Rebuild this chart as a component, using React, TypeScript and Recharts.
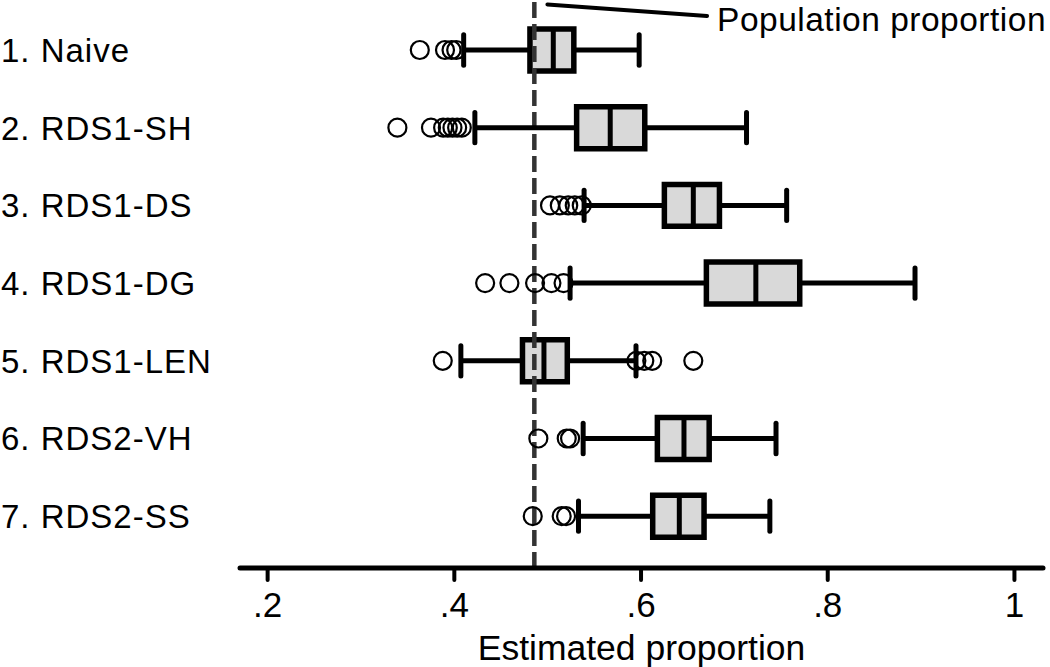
import React from 'react';
import {
  ComposedChart,
  XAxis,
  YAxis,
  Scatter,
  ReferenceLine,
  ReferenceArea,
  ReferenceDot,
  Label,
} from 'recharts';

const categories = [
  '1. Naive',
  '2. RDS1-SH',
  '3. RDS1-DS',
  '4. RDS1-DG',
  '5. RDS1-LEN',
  '6. RDS2-VH',
  '7. RDS2-SS',
];
const lowerWhisker = [0.41, 0.422, 0.539, 0.524, 0.407, 0.538, 0.533];
const q1 = [0.481, 0.531, 0.625, 0.67, 0.473, 0.6175, 0.6125];
const medians = [0.506, 0.567, 0.656, 0.723, 0.496, 0.646, 0.641];
const q3 = [0.528, 0.604, 0.684, 0.77, 0.521, 0.673, 0.6675];
const upperWhisker = [0.598, 0.713, 0.756, 0.8935, 0.5946, 0.7446, 0.738];
const outliers = [
  [0.363, 0.39, 0.397, 0.402],
  [0.339, 0.375, 0.388, 0.393, 0.398, 0.403, 0.408],
  [0.5025, 0.513, 0.522, 0.529, 0.5365],
  [0.433, 0.459, 0.4865, 0.504, 0.517],
  [0.3876, 0.595, 0.6035, 0.612, 0.656],
  [0.49, 0.5204, 0.524],
  [0.484, 0.515, 0.5197],
];
const populationProportion = 0.4857;
const xTicks = [0.2, 0.4, 0.6, 0.8, 1];
const xTickLabels = ['.2', '.4', '.6', '.8', '1'];
const annotationText = 'Population proportion';
const axisTitle = 'Estimated proportion';

const FONT = '"Liberation Sans", Arial, Helvetica, sans-serif';
const rows = categories.map((_, i) => i + 1);
const outlierData = outliers.flatMap((vals, i) => vals.map((v) => ({ x: v, y: i + 1 })));

const BOX_HALF = 0.27;
const CAP_HALF = 0.195;

const CategoryTick = (props: any) => {
  const { y, payload } = props;
  const idx = Math.round(payload.value) - 1;
  return (
    <text
      x={1}
      y={y + 12}
      textAnchor="start"
      fontFamily={FONT}
      fontSize={33}
      letterSpacing={1}
      fill="#000"
    >
      {categories[idx]}
    </text>
  );
};

const OutlierShape = (props: any) => {
  const { cx, cy } = props;
  return <circle cx={cx} cy={cy} r={9} fill="none" stroke="#000" strokeWidth={2.2} />;
};

const AnnotationShape = (props: any) => {
  const { cx, cy } = props;
  return (
    <text x={cx + 10} y={cy + 15} fontFamily={FONT} fontSize={33.5} letterSpacing={0.5} fill="#000">
      {annotationText}
    </text>
  );
};

export default function App() {
  return (
    <div style={{ position: 'absolute', left: 0, top: 0, background: '#fff' }}>
      <ComposedChart
        width={1050}
        height={667}
        margin={{ top: 0, right: 7, left: 0, bottom: 0 }}
        style={{ fontFamily: FONT }}
      >
        <XAxis
          type="number"
          dataKey="x"
          domain={[0.1704, 1.0306]}
          allowDataOverflow
          ticks={xTicks}
          tickFormatter={(v: number) => xTickLabels[xTicks.indexOf(v)] ?? String(v)}
          height={99}
          axisLine={{ stroke: '#000', strokeWidth: 5, strokeLinecap: 'round' }}
          tickLine={{ stroke: '#000', strokeWidth: 4, strokeLinecap: 'round' }}
          tickSize={12}
          tickMargin={12}
          tick={{ fill: '#000', fontSize: 35, fontFamily: FONT }}
        >
          <Label
            value={axisTitle}
            position="insideBottom"
            offset={7}
            fill="#000"
            fontSize={35.5}
            fontFamily={FONT}
          />
        </XAxis>
        <YAxis
          type="number"
          dataKey="y"
          domain={[0.3565, 7.667]}
          allowDataOverflow
          reversed
          ticks={rows}
          width={240}
          axisLine={false}
          tickLine={false}
          tick={<CategoryTick />}
          interval={0}
        />
        <ReferenceLine
          x={populationProportion}
          stroke="#333"
          strokeWidth={4.5}
          strokeDasharray="16 6"
          ifOverflow="extendDomain"
        />
        <ReferenceLine
          segment={[
            { x: 0.4997, y: 0.413 },
            { x: 0.6707, y: 0.562 },
          ]}
          stroke="#000"
          strokeWidth={4}
          strokeLinecap="round"
        />
        <ReferenceDot x={0.6707} y={0.562} r={0} shape={<AnnotationShape />} />
        {rows.map((r, i) => (
          <ReferenceLine
            key={`wl${i}`}
            segment={[
              { x: lowerWhisker[i], y: r },
              { x: q1[i], y: r },
            ]}
            stroke="#000"
            strokeWidth={5}
          />
        ))}
        {rows.map((r, i) => (
          <ReferenceLine
            key={`wu${i}`}
            segment={[
              { x: q3[i], y: r },
              { x: upperWhisker[i], y: r },
            ]}
            stroke="#000"
            strokeWidth={5}
          />
        ))}
        {rows.map((r, i) => (
          <ReferenceLine
            key={`cl${i}`}
            segment={[
              { x: lowerWhisker[i], y: r - CAP_HALF },
              { x: lowerWhisker[i], y: r + CAP_HALF },
            ]}
            stroke="#000"
            strokeWidth={5}
            strokeLinecap="round"
          />
        ))}
        {rows.map((r, i) => (
          <ReferenceLine
            key={`cu${i}`}
            segment={[
              { x: upperWhisker[i], y: r - CAP_HALF },
              { x: upperWhisker[i], y: r + CAP_HALF },
            ]}
            stroke="#000"
            strokeWidth={5}
            strokeLinecap="round"
          />
        ))}
        {rows.map((r, i) => (
          <ReferenceArea
            key={`box${i}`}
            x1={q1[i]}
            x2={q3[i]}
            y1={r - BOX_HALF}
            y2={r + BOX_HALF}
            fill="#d9d9d9"
            fillOpacity={1}
            stroke="#000"
            strokeWidth={5.5}
          />
        ))}
        {rows.map((r, i) => (
          <ReferenceLine
            key={`med${i}`}
            segment={[
              { x: medians[i], y: r - BOX_HALF },
              { x: medians[i], y: r + BOX_HALF },
            ]}
            stroke="#000"
            strokeWidth={5}
          />
        ))}
        <Scatter
          data={outlierData}
          dataKey="y"
          shape={<OutlierShape />}
          isAnimationActive={false}
        />
      </ComposedChart>
    </div>
  );
}
